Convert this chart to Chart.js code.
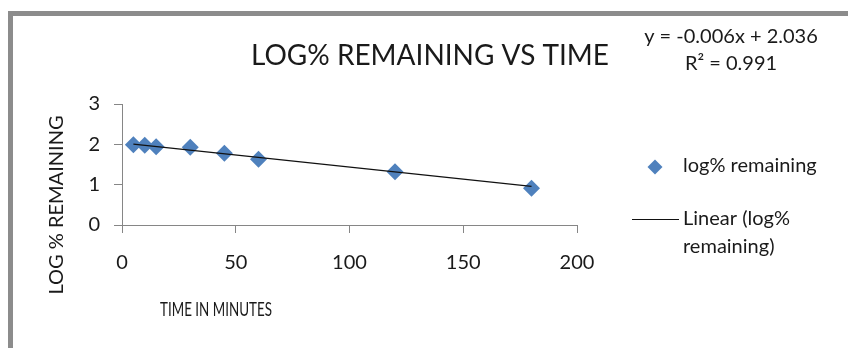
<!DOCTYPE html>
<html>
<head>
<meta charset="utf-8">
<script src="https://cdn.jsdelivr.net/npm/chart.js@4/dist/chart.umd.min.js"></script>
<style>
  html, body { margin: 0; padding: 0; background: #ffffff; }
  #wrap { width: 848px; height: 348px; position: relative; }
</style>
</head>
<body>
<div id="wrap"><canvas id="c" width="848" height="348"></canvas></div>
<script>
// Measured data: time (minutes) and log% of drug remaining
const timeMinutes = [5, 10, 15, 30, 45, 60, 120, 180];
const logRemaining = [1.99, 1.98, 1.94, 1.93, 1.78, 1.63, 1.32, 0.91];

// Axis ticks
const xTicks = [0, 50, 100, 150, 200];
const yTicks = [0, 1, 2, 3];

// Linear trendline coefficients (as printed in the equation box)
const trendSlope = [-0.006];
const trendIntercept = [2.036];
const rSquared = [0.991];

const FONT = 'Lato, "Open Sans", sans-serif';
const TEXT = '#1a1a1a';
const AXIS = '#868686';
const BLUE = '#4F81BD';

const points = timeMinutes.map((t, i) => ({ x: t, y: logRemaining[i] }));
const xFirst = timeMinutes[0];
const xLast = timeMinutes[timeMinutes.length - 1];
const trend = [xFirst, xLast].map(t => ({ x: t, y: trendSlope[0] * t + trendIntercept[0] }));

const fmt3 = v => v.toFixed(3);

// Frame, titles, equation and legend drawn on the canvas
const decorations = {
  id: 'decorations',
  afterDraw(chart) {
    const ctx = chart.ctx;
    ctx.save();

    // chart frame (top and left edges)
    ctx.fillStyle = '#8c8c8c';
    ctx.fillRect(8, 11, 848 - 8, 5);
    ctx.fillRect(8, 11, 5, 348 - 11);

    ctx.fillStyle = TEXT;
    ctx.textBaseline = 'middle';

    // main title
    ctx.textAlign = 'center';
    ctx.font = '28px ' + FONT;
    ctx.fillText('LOG% REMAINING VS TIME', 430, 56);

    // trendline equation
    ctx.font = '20px ' + FONT;
    const sign = trendIntercept[0] >= 0 ? ' + ' : ' - ';
    ctx.fillText('y = ' + fmt3(trendSlope[0]) + 'x' + sign + fmt3(Math.abs(trendIntercept[0])), 731, 37);
    ctx.fillText('R\u00B2 = ' + fmt3(rSquared[0]), 731, 64);

    // y axis title
    ctx.save();
    ctx.translate(57, 205);
    ctx.rotate(-Math.PI / 2);
    ctx.font = '20px ' + FONT;
    ctx.textAlign = 'center';
    ctx.fillText('LOG % REMAINING', 0, 0);
    ctx.restore();

    // x axis title (condensed lettering)
    ctx.save();
    ctx.translate(216, 310);
    ctx.scale(0.67, 1);
    ctx.font = '20px ' + FONT;
    ctx.textAlign = 'center';
    ctx.fillText('TIME IN MINUTES', 0, 0);
    ctx.restore();

    // legend: markers series
    const ds = chart.data.datasets;
    ctx.fillStyle = BLUE;
    ctx.beginPath();
    const lx = 655, ly = 167, r = 7.5;
    ctx.moveTo(lx, ly - r);
    ctx.lineTo(lx + r, ly);
    ctx.lineTo(lx, ly + r);
    ctx.lineTo(lx - r, ly);
    ctx.closePath();
    ctx.fill();

    ctx.fillStyle = TEXT;
    ctx.textAlign = 'left';
    ctx.font = '20px ' + FONT;
    ctx.fillText(ds[0].label, 683, 166);

    // legend: trendline
    ctx.strokeStyle = '#111111';
    ctx.lineWidth = 1;
    ctx.beginPath();
    ctx.moveTo(632, 219.5);
    ctx.lineTo(679, 219.5);
    ctx.stroke();
    const parts = ds[1].label.split('\n');
    ctx.fillText(parts[0], 683, 219);
    ctx.fillText(parts[1], 683, 247);

    ctx.restore();
  }
};

new Chart(document.getElementById('c'), {
  type: 'scatter',
  data: {
    datasets: [
      {
        label: 'log% remaining',
        data: points,
        pointStyle: 'rectRot',
        pointRadius: 8.5,
        pointHoverRadius: 8.5,
        backgroundColor: BLUE,
        borderColor: BLUE,
        borderWidth: 0,
        order: 2
      },
      {
        type: 'line',
        label: 'Linear (log%\nremaining)',
        data: trend,
        borderColor: '#111111',
        borderWidth: 1.3,
        pointRadius: 0,
        fill: false,
        order: 1
      }
    ]
  },
  options: {
    responsive: false,
    animation: false,
    devicePixelRatio: 1,
    layout: { padding: { top: 104, right: 271, left: 0, bottom: 0 } },
    plugins: {
      legend: { display: false },
      title: { display: false },
      tooltip: { enabled: false }
    },
    scales: {
      x: {
        type: 'linear',
        min: xTicks[0],
        max: xTicks[xTicks.length - 1],
        afterBuildTicks: s => { s.ticks = xTicks.map(v => ({ value: v })); },
        afterFit: s => { s.height = 123; },
        ticks: { color: TEXT, font: { family: FONT, size: 20 }, padding: 18 },
        grid: { drawOnChartArea: false, drawTicks: true, tickLength: 8, color: AXIS },
        border: { color: AXIS, width: 1 }
      },
      y: {
        type: 'linear',
        min: yTicks[0],
        max: yTicks[yTicks.length - 1],
        afterBuildTicks: s => { s.ticks = yTicks.map(v => ({ value: v })); },
        afterFit: s => { s.width = 122; },
        ticks: { color: TEXT, font: { family: FONT, size: 20 }, padding: 14 },
        grid: { drawOnChartArea: false, drawTicks: true, tickLength: 8, color: AXIS },
        border: { color: AXIS, width: 1 }
      }
    }
  },
  plugins: [decorations]
});
</script>
</body>
</html>
